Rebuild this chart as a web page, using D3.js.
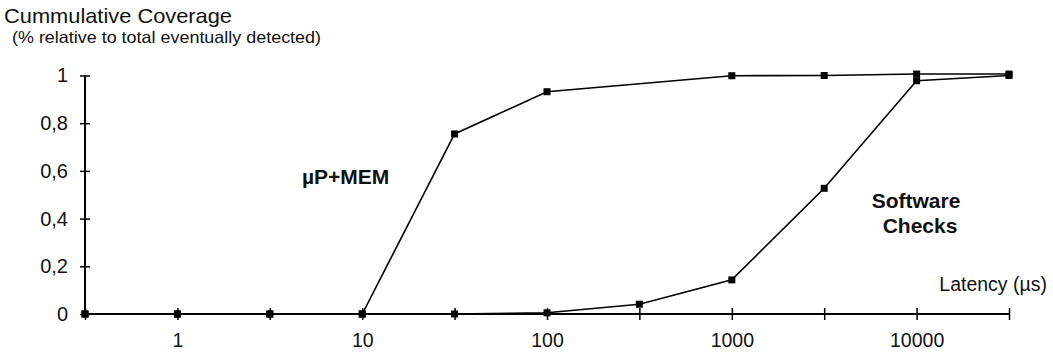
<!DOCTYPE html>
<html>
<head>
<meta charset="utf-8">
<script src="https://cdn.jsdelivr.net/npm/d3@7"></script>
<style>
  html, body { margin: 0; padding: 0; background: #fff; }
  svg { display: block; font-family: "Liberation Sans", Arial, Helvetica, sans-serif; }
</style>
</head>
<body>
<svg id="chart" width="1053" height="352"></svg>
<script>
// Latency categories (µs), half-decade steps
const latency = [0.316, 1, 3.16, 10, 31.6, 100, 316, 1000, 3162, 10000, 31623];
// Cumulative coverage per latency; null = no measurement at that latency
const mpMem = [0, 0, 0, 0, 0.755, 0.932, null, 0.999, 1.0, 1.006, 1.006];
const softwareChecks = [0, 0, 0, 0, 0, 0.005, 0.041, 0.143, 0.527, 0.978, 1.0];
// Axis tick labels
const xTickLabels = ["1", "10", "100", "1000", "10000"];
const yTicks = [0, 0.2, 0.4, 0.6, 0.8, 1];

const svg = d3.select("#chart");

const x = d3.scaleLog().domain([latency[0], latency[latency.length - 1]]).range([85, 1009]);
const y = d3.scaleLinear().domain([0, 1]).range([314, 75.5]);

const fmtComma = d => d === 0 ? "0" : d === 1 ? "1" : String(d).replace(".", ",");

// Titles
svg.append("text").attr("x", 4).attr("y", 23)
  .attr("font-size", 21).attr("fill", "#111")
  .attr("textLength", 228).attr("lengthAdjust", "spacingAndGlyphs")
  .text("Cummulative Coverage");
svg.append("text").attr("x", 12).attr("y", 43)
  .attr("font-size", 16.5).attr("fill", "#111")
  .attr("textLength", 309).attr("lengthAdjust", "spacingAndGlyphs")
  .text("(% relative to total eventually detected)");

// Y axis
const yAxis = svg.append("g").attr("transform", "translate(85,0)")
  .call(d3.axisLeft(y).tickValues(yTicks).tickFormat(fmtComma).tickSize(5).tickPadding(12));
yAxis.select(".domain").attr("d", `M0,${y(0)}V${y(1)}`).attr("stroke", "#000").attr("stroke-width", 2);
yAxis.selectAll(".tick line").attr("x1", 5).attr("x2", -5).attr("stroke", "#000").attr("stroke-width", 1.5);
yAxis.selectAll(".tick text").attr("font-size", 20).attr("fill", "#111")
  .attr("font-family", "Liberation Sans, Arial, sans-serif");

// X axis: tick marks at every latency, labels at decades
const labelAt = new Map(xTickLabels.map(l => [+l, l]));
const xAxis = svg.append("g").attr("transform", `translate(0,${y(0)})`)
  .call(d3.axisBottom(x).tickValues(latency)
    .tickFormat(d => labelAt.get(d) || "").tickSize(6).tickPadding(13));
xAxis.select(".domain").attr("d", `M${x(latency[0])},0H${x(latency[latency.length - 1])}`)
  .attr("stroke", "#000").attr("stroke-width", 2);
xAxis.selectAll(".tick line").attr("y1", -6).attr("y2", 6).attr("stroke", "#000").attr("stroke-width", 1.5);
xAxis.selectAll(".tick text").attr("font-size", 19.5).attr("fill", "#111")
  .attr("font-family", "Liberation Sans, Arial, sans-serif");

// Series
const seriesList = [mpMem, softwareChecks];
const line = d3.line().x(d => x(d.lat)).y(d => y(d.val));
seriesList.forEach(vals => {
  const pts = latency.map((lat, i) => ({ lat, val: vals[i] })).filter(d => d.val !== null);
  svg.append("path").datum(pts).attr("d", line)
    .attr("fill", "none").attr("stroke", "#000").attr("stroke-width", 1.6);
  svg.append("g").selectAll("rect").data(pts).join("rect")
    .attr("x", d => x(d.lat) - 3.5).attr("y", d => y(d.val) - 3.5)
    .attr("width", 7).attr("height", 7).attr("fill", "#000");
});

// Series annotations
svg.append("text").attr("x", 302).attr("y", 184)
  .attr("font-size", 21).attr("font-weight", "bold").attr("fill", "#111").text("µP+MEM");
const sw = svg.append("text").attr("font-size", 21).attr("font-weight", "bold")
  .attr("fill", "#111").attr("text-anchor", "middle");
sw.append("tspan").attr("x", 916).attr("y", 208).text("Software");
sw.append("tspan").attr("x", 920).attr("y", 233).text("Checks");

// X axis title
svg.append("text").attr("x", 1047).attr("y", 291).attr("text-anchor", "end")
  .attr("font-size", 19.5).attr("fill", "#111").text("Latency (µs)");
</script>
</body>
</html>
